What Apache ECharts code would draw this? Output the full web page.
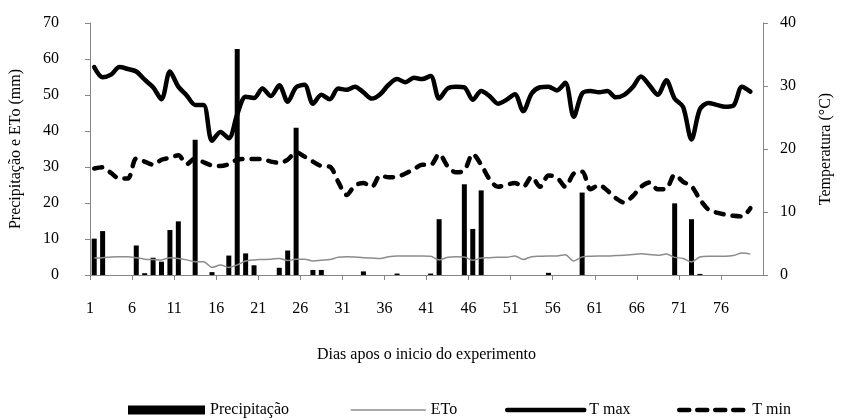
<!DOCTYPE html>
<html>
<head>
<meta charset="utf-8">
<script src="https://cdn.jsdelivr.net/npm/echarts@6/dist/echarts.min.js"></script>
<style>
  html, body { margin: 0; padding: 0; background: #fff; }
  #chart { width: 842px; height: 420px; }
</style>
</head>
<body>
<div id="chart"></div>
<script>
// Days after the start of the experiment (axis labels)
const dayLabels = Array.from({ length: 81 }, (_, i) => String(i + 1));
const dayCats = Array.from({ length: 80 }, (_, i) => String(i + 1));

// Daily rainfall (mm), by day 1..80
const precipitacao = [
  10.1, 12.2, 0, 0, 0, 8.2, 0.5, 4.8, 3.7, 12.5,
  14.9, 0, 37.6, 0, 0.8, 0, 5.4, 62.8, 6.0, 2.7,
  0, 0, 2.0, 6.8, 40.9, 0, 1.4, 1.4, 0, 0,
  0, 0, 1.0, 0, 0, 0, 0.4, 0, 0, 0,
  0.4, 15.5, 0, 0, 25.2, 12.8, 23.5, 0, 0, 0,
  0, 0, 0, 0, 0.6, 0, 0, 0, 22.9, 0,
  0, 0, 0, 0, 0, 0, 0, 0, 0, 19.9,
  0, 15.5, 0.3, 0, 0, 0, 0, 0, 0, 0
];

// Reference evapotranspiration (mm), by day 1..79
const eto = [
  4.7, 4.8, 5.0, 5.1, 5.1, 4.8, 4.4, 4.3, 4.2, 4.8,
  4.6, 4.2, 3.7, 3.7, 2.1, 2.8, 2.1, 2.8, 3.9, 4.2,
  4.3, 4.4, 4.6, 4.0, 4.4, 4.4, 3.9, 4.1, 4.3, 4.9,
  5.1, 5.0, 4.8, 4.7, 4.6, 5.1, 5.3, 5.3, 5.3, 5.3,
  5.2, 4.2, 4.9, 5.1, 5.0, 4.1, 4.7, 4.8, 4.9, 4.9,
  5.3, 4.3, 5.1, 5.2, 5.3, 5.3, 5.6, 3.9, 5.0, 5.2,
  5.3, 5.3, 5.4, 5.5, 5.7, 5.9, 5.7, 5.5, 5.8, 4.9,
  4.6, 3.6, 5.0, 5.2, 5.2, 5.2, 5.4, 6.1, 5.8
];

// Maximum air temperature (°C), by day 1..79
const tMax = [
  33.0, 31.4, 31.8, 33.0, 32.7, 32.3, 31.0, 29.8, 27.9, 32.3,
  29.9, 28.5, 27.0, 27.0, 21.3, 22.7, 21.7, 25.5, 28.3, 28.1,
  29.6, 28.4, 30.1, 27.5, 29.8, 30.2, 27.2, 28.6, 27.9, 29.6,
  29.4, 29.9, 29.0, 28.0, 28.7, 30.2, 31.1, 30.6, 31.3, 31.1,
  31.6, 28.0, 29.6, 29.9, 29.8, 27.8, 29.2, 28.4, 27.2, 27.8,
  28.7, 26.0, 28.8, 29.8, 29.9, 29.3, 30.5, 25.1, 28.8, 29.2,
  29.0, 29.2, 28.2, 28.6, 29.8, 31.5, 30.1, 28.6, 30.9, 28.0,
  26.7, 21.5, 26.3, 27.3, 27.0, 26.7, 26.9, 29.9, 29.1
];

// Minimum air temperature (°C), by day 1..79
const tMin = [
  16.9, 17.1, 16.2, 15.3, 15.3, 18.5, 18.0, 17.5, 18.3, 18.6,
  19.0, 17.6, 18.5, 17.9, 17.4, 17.3, 17.6, 18.3, 18.4, 18.4,
  18.4, 18.0, 17.8, 18.3, 19.5, 18.8, 18.0, 17.3, 17.2, 14.8,
  12.7, 14.2, 14.6, 14.0, 15.8, 15.5, 15.6, 16.1, 16.8, 17.5,
  17.5, 19.2, 17.3, 16.3, 16.6, 19.2, 17.5, 15.2, 14.0, 14.3,
  14.6, 14.0, 15.6, 14.0, 15.8, 15.5, 14.0, 16.1, 16.4, 13.6,
  14.3, 13.4, 12.2, 11.5, 12.5, 14.0, 14.7, 13.6, 13.7, 15.9,
  14.8, 14.1, 12.0, 10.4, 9.9, 9.6, 9.4, 9.3, 10.6
];

const FONT = '"Liberation Serif", "DejaVu Serif", serif';
const FS = 16;
const AXIS_GREY = '#868686';
const TEXT = '#000';

// Tick/label every 5 days: 1, 6, 11, ..., 76
const everyFifth = (idx) => idx % 5 === 0 && idx <= 75;

const chart = echarts.init(document.getElementById('chart'), null, { renderer: 'canvas' });

function legendAt(left, name, width, height, extra) {
  return Object.assign({
    orient: 'horizontal',
    left: left,
    top: 402,
    itemWidth: width,
    itemHeight: height,
    itemGap: 0,
    padding: 0,
    selectedMode: false,
    textStyle: { fontFamily: FONT, fontSize: FS, color: TEXT },
    data: [name]
  }, extra || {});
}

chart.setOption({
  animation: false,
  backgroundColor: '#fff',
  grid: { left: 88, right: 74, top: 23, bottom: 145, containLabel: false },
  legend: [
    legendAt(128, { name: 'Precipitação', icon: 'rect' }, 77, 9),
    legendAt(350, 'ETo', 75, 14, {
      itemStyle: { opacity: 0 },
      lineStyle: { width: 1.5, color: '#8c8c8c' }
    }),
    legendAt(505, 'T max', 77, 14, {
      itemStyle: { opacity: 0 },
      lineStyle: { width: 4.5, color: '#000', cap: 'round' }
    }),
    legendAt(677, 'T min', 68, 14, {
      itemStyle: { opacity: 0 },
      lineStyle: { width: 4.5, color: '#000', type: [10, 8], cap: 'round' }
    })
  ],
  xAxis: [
    {
      type: 'category',
      data: dayLabels,
      boundaryGap: false,
      name: 'Dias apos o inicio do experimento',
      nameLocation: 'middle',
      nameGap: 72,
      nameTextStyle: { fontFamily: FONT, fontSize: FS, color: TEXT },
      axisLine: { lineStyle: { color: AXIS_GREY, width: 1 } },
      axisTick: { show: true, interval: everyFifth, length: 5, lineStyle: { color: AXIS_GREY } },
      axisLabel: { interval: everyFifth, margin: 26, fontFamily: FONT, fontSize: FS, color: TEXT },
      splitLine: { show: false }
    },
    {
      type: 'category',
      data: dayCats,
      boundaryGap: true,
      show: false
    }
  ],
  yAxis: [
    {
      type: 'value',
      min: 0,
      max: 70,
      interval: 10,
      position: 'left',
      name: 'Precipitação e ETo (mm)',
      nameLocation: 'middle',
      nameGap: 66,
      nameTextStyle: { fontFamily: FONT, fontSize: FS, color: TEXT },
      axisLine: { show: true, lineStyle: { color: AXIS_GREY, width: 1 } },
      axisTick: { show: true, length: 5, lineStyle: { color: AXIS_GREY } },
      axisLabel: { margin: 31, fontFamily: FONT, fontSize: FS, color: TEXT },
      splitLine: { show: false }
    },
    {
      type: 'value',
      min: 0,
      max: 40,
      interval: 10,
      position: 'right',
      name: 'Temperatura (°C)',
      nameLocation: 'middle',
      nameGap: 55,
      nameTextStyle: { fontFamily: FONT, fontSize: FS, color: TEXT },
      axisLine: { show: true, lineStyle: { color: AXIS_GREY, width: 1 } },
      axisTick: { show: true, length: 5, lineStyle: { color: AXIS_GREY } },
      axisLabel: { margin: 17, fontFamily: FONT, fontSize: FS, color: TEXT },
      splitLine: { show: false }
    }
  ],
  series: [
    {
      name: 'Precipitação',
      type: 'bar',
      xAxisIndex: 1,
      yAxisIndex: 0,
      data: precipitacao,
      barWidth: 5,
      itemStyle: { color: '#000' },
      z: 2
    },
    {
      name: 'ETo',
      type: 'line',
      xAxisIndex: 1,
      yAxisIndex: 0,
      data: eto,
      smooth: 0.3,
      symbol: 'none',
      lineStyle: { color: '#8c8c8c', width: 1.5 },
      itemStyle: { color: '#8c8c8c' },
      z: 3
    },
    {
      name: 'T max',
      type: 'line',
      xAxisIndex: 1,
      yAxisIndex: 1,
      data: tMax,
      smooth: 0.3,
      symbol: 'none',
      lineStyle: { color: '#000', width: 4.5, cap: 'round', join: 'round' },
      itemStyle: { color: '#000' },
      z: 4
    },
    {
      name: 'T min',
      type: 'line',
      xAxisIndex: 1,
      yAxisIndex: 1,
      data: tMin,
      smooth: 0.3,
      symbol: 'none',
      lineStyle: { color: '#000', width: 4.5, type: [8, 9], cap: 'round', join: 'round' },
      itemStyle: { color: '#000' },
      z: 4
    }
  ]
});
</script>
</body>
</html>
